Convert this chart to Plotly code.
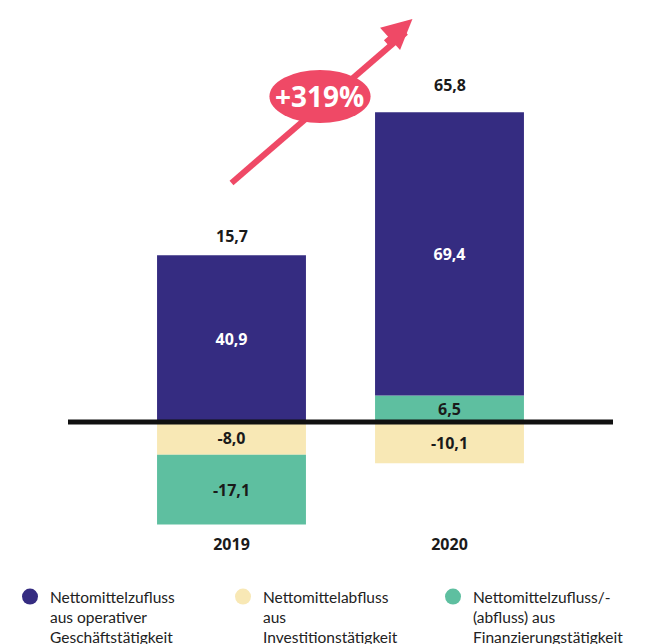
import plotly.graph_objects as go

years = ["2019", "2020"]
investing = [-8.0, -10.1]          # Nettomittelabfluss aus Investitionstätigkeit
financing = [-17.1, 6.5]           # Nettomittelzufluss/-(abfluss) aus Finanzierungstätigkeit
operating = [40.9, 69.4]           # Nettomittelzufluss aus operativer Geschäftstätigkeit
net_change = [15.7, 65.8]
growth_label = "+319%"

legend_names = [
    "Nettomittelzufluss<br>aus operativer<br>Geschäftstätigkeit",
    "Nettomittelabfluss<br>aus<br>Investitionstätigkeit",
    "Nettomittelzufluss/-<br>(abfluss) aus<br>Finanzierungstätigkeit",
]

C_BLUE = "#352c81"
C_YELLOW = "#f8e8b5"
C_GREEN = "#5ebfa0"
C_RED = "#ef4966"
C_TEXT = "#1a1a1a"
LABEL_FONT = "Open Sans"

fig = go.Figure()

def bar(vals, color, txtcolor):
    fig.add_trace(go.Bar(
        x=years, y=vals, marker=dict(color=color, line=dict(width=0)),
        width=0.683, texttemplate="%{y:.1f}", textposition="inside",
        insidetextanchor="middle", constraintext="none",
        textfont=dict(family=LABEL_FONT, size=16, color=txtcolor, weight="bold"),
        showlegend=False, hoverinfo="skip"))

bar(investing, C_YELLOW, C_TEXT)
bar(financing, C_GREEN, C_TEXT)
bar(operating, C_BLUE, "white")

legend_ids = ["legend", "legend2", "legend3"]
for name, color, lid in zip(legend_names, [C_BLUE, C_YELLOW, C_GREEN], legend_ids):
    fig.add_trace(go.Scatter(x=[None], y=[None], mode="markers", name=name, legend=lid,
                             marker=dict(symbol="circle", size=16, color=color)))

# net totals above bars
pos_tops = [max(f, 0) + o for f, o in zip(financing, operating)]
for i, (top, val, shift) in enumerate(zip(pos_tops, net_change, [19, 27])):
    fig.add_annotation(x=i, y=top, xref="x", yref="y",
                       text=f"{val:.1f}".replace(".", ","), showarrow=False,
                       yanchor="middle", yshift=shift,
                       font=dict(family=LABEL_FONT, size=16, color=C_TEXT, weight="bold"))

# zero baseline
fig.add_shape(type="line", xref="paper", x0=0, x1=1, yref="y", y0=0, y1=0,
              line=dict(color="#111111", width=5), layer="above")

# growth arrow
fig.add_shape(type="line", xref="x", yref="y", x0=0.0, y0=58.6, x1=0.80, y1=95.5,
              line=dict(color=C_RED, width=6), layer="above")
fig.add_annotation(x=0.83, y=98.8, xref="x", yref="y", ax=-28, ay=25, text="",
                   showarrow=True, arrowcolor=C_RED, arrowwidth=6, arrowhead=2, arrowsize=1)
fig.add_shape(type="circle", xref="x", yref="y", x0=0.174, x1=0.638, y0=73.3, y1=86.3,
              fillcolor=C_RED, line=dict(width=0), layer="above")
fig.add_annotation(x=0.404, y=79.9, xref="x", yref="y", text=f"<b>{growth_label}</b>",
                   showarrow=False, font=dict(family=LABEL_FONT, size=28, color="white"))

legend_style = dict(orientation="h", xref="container", yref="container",
                    y=(644 - 580) / 644, xanchor="left", yanchor="top", valign="top",
                    bgcolor="rgba(0,0,0,0)",
                    font=dict(family="Lato", size=15.5, color="#222222"))

fig.update_layout(
    width=658, height=644,
    margin=dict(l=68, r=45, t=10, b=114, autoexpand=False),
    paper_bgcolor="white", plot_bgcolor="white",
    barmode="relative", separators=",.",
    xaxis=dict(type="category", range=[-0.75, 1.75], showgrid=False, zeroline=False,
               showline=False, ticks="", ticklabelstandoff=3,
               tickfont=dict(family=LABEL_FONT, size=16, color=C_TEXT, weight="bold")),
    yaxis=dict(range=[-26.47, 100.98], visible=False, showgrid=False, zeroline=False),
    legend=dict(x=10 / 658, **legend_style),
    legend2=dict(x=223 / 658, **legend_style),
    legend3=dict(x=433 / 658, **legend_style),
)

fig.write_html("out.html", config={"displayModeBar": False},
               post_script="document.body.style.margin='0';document.body.style.overflow='hidden';")
